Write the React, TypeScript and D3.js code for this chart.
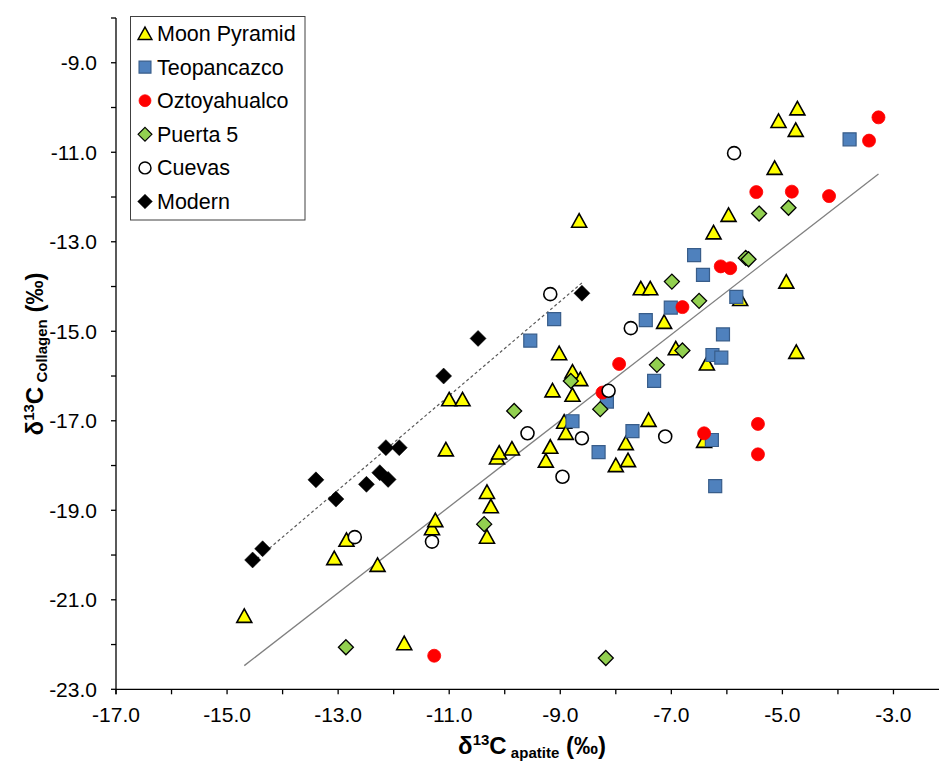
import React from 'react';
import * as d3 from 'd3';

// d13C apatite (x) / d13C collagen (y) per site
const moonPyramidApatite = [-14.69, -13.07, -12.85, -12.29, -11.81, -11.31, -11.25, -11.06, -11.0, -10.76, -10.32, -10.25, -10.32, -10.14, -10.1, -9.87, -9.26, -9.18, -9.14, -9.02, -8.93, -8.9, -8.78, -8.78, -8.64, -8.66, -8.0, -7.82, -7.78, -7.55, -7.41, -7.38, -7.13, -6.92, -6.41, -6.36, -6.24, -5.97, -5.76, -5.14, -5.07, -4.93, -4.76, -4.73, -4.75];
const moonPyramidCollagen = [-21.36, -20.07, -19.66, -20.22, -21.97, -19.4, -19.22, -17.64, -16.52, -16.52, -18.59, -18.91, -19.59, -17.82, -17.71, -17.62, -17.89, -17.58, -16.32, -15.49, -17.02, -17.27, -15.9, -16.42, -16.07, -12.53, -17.99, -17.5, -17.88, -14.04, -16.98, -14.04, -14.79, -15.38, -17.45, -15.72, -12.79, -12.4, -14.28, -11.35, -10.3, -13.89, -10.5, -10.02, -15.46];

const teopancazcoApatite = [-9.54, -9.11, -8.78, -8.31, -8.16, -7.7, -7.46, -7.31, -7.01, -6.59, -6.43, -6.26, -6.27, -6.21, -6.1, -6.07, -5.83, -3.79];
const teopancazcoCollagen = [-15.21, -14.73, -17.01, -17.7, -16.57, -17.23, -14.75, -16.11, -14.47, -13.3, -13.74, -15.53, -17.43, -18.46, -15.59, -15.07, -14.23, -10.71];

const oztoyahualcoApatite = [-11.27, -8.24, -7.94, -6.8, -6.41, -6.11, -5.94, -5.47, -5.44, -5.44, -4.83, -4.16, -3.44, -3.27];
const oztoyahualcoCollagen = [-22.25, -16.37, -15.73, -14.46, -17.28, -13.55, -13.59, -11.89, -17.07, -17.75, -11.88, -11.98, -10.74, -10.22];

const puerta5Apatite = [-12.86, -10.37, -9.83, -8.81, -8.28, -8.18, -7.26, -6.99, -6.8, -6.5, -5.66, -5.61, -5.42, -4.89];
const puerta5Collagen = [-22.06, -19.31, -16.78, -16.11, -16.74, -22.3, -15.75, -13.89, -15.43, -14.32, -13.36, -13.39, -12.37, -12.24];

const cuevasApatite = [-12.7, -11.31, -9.59, -9.18, -8.96, -8.61, -8.13, -7.73, -7.11, -5.87];
const cuevasCollagen = [-19.6, -19.7, -17.28, -14.17, -18.25, -17.39, -16.33, -14.93, -17.35, -11.02];

const modernApatite = [-14.54, -14.36, -13.4, -13.04, -12.49, -12.25, -12.1, -12.14, -11.9, -11.1, -10.48, -8.61];
const modernCollagen = [-20.11, -19.86, -18.32, -18.75, -18.42, -18.16, -18.31, -17.6, -17.6, -16.0, -15.16, -14.15];

const seriesNames = ['Moon Pyramid', 'Teopancazco', 'Oztoyahualco', 'Puerta 5', 'Cuevas', 'Modern'];

const xTicks = d3.range(-17, -2.5, 1);
const yTicks = d3.range(-23, -7.5, 1);

const font = '"Liberation Sans", Arial, sans-serif';

// marker path, centred on 0,0
function markerPath(kind: string) {
  switch (kind) {
    case 'triangle':
      return 'M0,-7L7.5,6.5L-7.5,6.5Z';
    case 'square':
      return 'M-6.5,-6.5H6.5V6.5H-6.5Z';
    case 'diamond':
      return 'M0,-7.5L7.5,0L0,7.5L-7.5,0Z';
    case 'bigdiamond':
      return 'M0,-8L8,0L0,8L-8,0Z';
    default:
      return d3.arc()({ innerRadius: 0, outerRadius: 6.5, startAngle: 0, endAngle: 2 * Math.PI }) as string;
  }
}

const styles = [
  { kind: 'triangle', fill: '#FFFF00', stroke: '#000', sw: 1.6 },
  { kind: 'square', fill: '#4F81BD', stroke: '#385D8A', sw: 1.2 },
  { kind: 'circle', fill: '#FF0000', stroke: '#FF0000', sw: 0.8 },
  { kind: 'diamond', fill: '#92D050', stroke: '#000', sw: 1.3 },
  { kind: 'circle', fill: '#fff', stroke: '#000', sw: 1.6 },
  { kind: 'bigdiamond', fill: '#000', stroke: '#000', sw: 0.5 },
];

// least squares line over the x range of the data (like an Excel trendline)
function fit(xs: number[], ys: number[]) {
  const mx = d3.mean(xs) as number;
  const my = d3.mean(ys) as number;
  const sxy = d3.sum(xs, (x, i) => (x - mx) * (ys[i] - my));
  const sxx = d3.sum(xs, (x) => (x - mx) * (x - mx));
  const slope = sxy / sxx;
  const [x0, x1] = d3.extent(xs) as [number, number];
  return [[x0, my + slope * (x0 - mx)], [x1, my + slope * (x1 - mx)]] as [number, number][];
}

export default function App() {
  const width = 939;
  const height = 762;

  const xScale = d3.scaleLinear().domain([-17, -2]).range([116, 949]);
  const yScale = d3.scaleLinear().domain([-23, -8]).range([689.3, 18]);

  const series = [
    [moonPyramidApatite, moonPyramidCollagen],
    [teopancazcoApatite, teopancazcoCollagen],
    [oztoyahualcoApatite, oztoyahualcoCollagen],
    [puerta5Apatite, puerta5Collagen],
    [cuevasApatite, cuevasCollagen],
    [modernApatite, modernCollagen],
  ];

  const ancientX = series.slice(0, 5).flatMap((s) => s[0]);
  const ancientY = series.slice(0, 5).flatMap((s) => s[1]);

  const line = d3.line<[number, number]>()
    .x((d) => xScale(d[0]))
    .y((d) => yScale(d[1]));

  const x0 = xScale(-17);
  const y0 = yScale(-23);

  return (
    <svg width={width} height={height} style={{ position: 'absolute', left: 0, top: 0, background: '#fff' }} fontFamily={font}>
      {/* trendlines */}
      <path d={line(fit(ancientX, ancientY)) as string} stroke="#808080" strokeWidth={1.3} fill="none" />
      <path d={line(fit(modernApatite, modernCollagen)) as string} stroke="#595959" strokeWidth={1.2} strokeDasharray="3,2.5" fill="none" />

      {/* axes */}
      <line x1={x0} x2={width} y1={y0} y2={y0} stroke="#000" strokeWidth={1.3} />
      <line x1={x0} x2={x0} y1={yScale(-8)} y2={y0 + 5} stroke="#000" strokeWidth={1.3} />
      {xTicks.map((t) => (
        <g key={'x' + t}>
          <line x1={xScale(t)} x2={xScale(t)} y1={y0} y2={y0 + 5} stroke="#000" strokeWidth={1.3} />
          {Math.abs(t) % 2 === 1 && (
            <text x={xScale(t)} y={y0 + 33} textAnchor="middle" fontSize={21} fill="#000">{t.toFixed(1)}</text>
          )}
        </g>
      ))}
      {yTicks.map((t) => (
        <g key={'y' + t}>
          <line x1={x0 - 5} x2={x0} y1={yScale(t)} y2={yScale(t)} stroke="#000" strokeWidth={1.3} />
          {Math.abs(t) % 2 === 1 && (
            <text x={97} y={yScale(t) + 7.6} textAnchor="end" fontSize={21} fill="#000">{t.toFixed(1)}</text>
          )}
        </g>
      ))}

      {/* axis titles */}
      <text x={532} y={754} textAnchor="middle" fontSize={24} fontWeight="bold" fill="#000">
        δ<tspan fontSize={15} dy={-9}>13</tspan><tspan dy={9}>C</tspan>
        <tspan fontSize={15} dy={4}> apatite</tspan><tspan dy={-4}> (‰)</tspan>
      </text>
      <text transform="translate(43,354) rotate(-90)" textAnchor="middle" fontSize={24} fontWeight="bold" fill="#000">
        δ<tspan fontSize={15} dy={-9}>13</tspan><tspan dy={9}>C</tspan>
        <tspan fontSize={15} dy={4}> Collagen</tspan><tspan dy={-4}> (‰)</tspan>
      </text>

      {/* points */}
      {series.map((s, si) => (
        <g key={'s' + si}>
          {s[0].map((xv, i) => (
            <path
              key={i}
              d={markerPath(styles[si].kind)}
              transform={`translate(${xScale(xv)},${yScale(s[1][i])})`}
              fill={styles[si].fill}
              stroke={styles[si].stroke}
              strokeWidth={styles[si].sw}
              strokeLinejoin="miter"
            />
          ))}
        </g>
      ))}

      {/* legend */}
      <rect x={130.5} y={16.5} width={174.5} height={203.5} fill="#fff" stroke="#404040" strokeWidth={1} />
      {seriesNames.map((name, i) => {
        const cy = 33.5 + i * 33.6;
        return (
          <g key={name}>
            <path
              d={markerPath(styles[i].kind)}
              transform={`translate(145,${cy}) scale(0.92)`}
              fill={styles[i].fill}
              stroke={styles[i].stroke}
              strokeWidth={styles[i].sw}
            />
            <text x={157} y={cy + 7.5} fontSize={21.5} fill="#000">{name}</text>
          </g>
        );
      })}
    </svg>
  );
}
